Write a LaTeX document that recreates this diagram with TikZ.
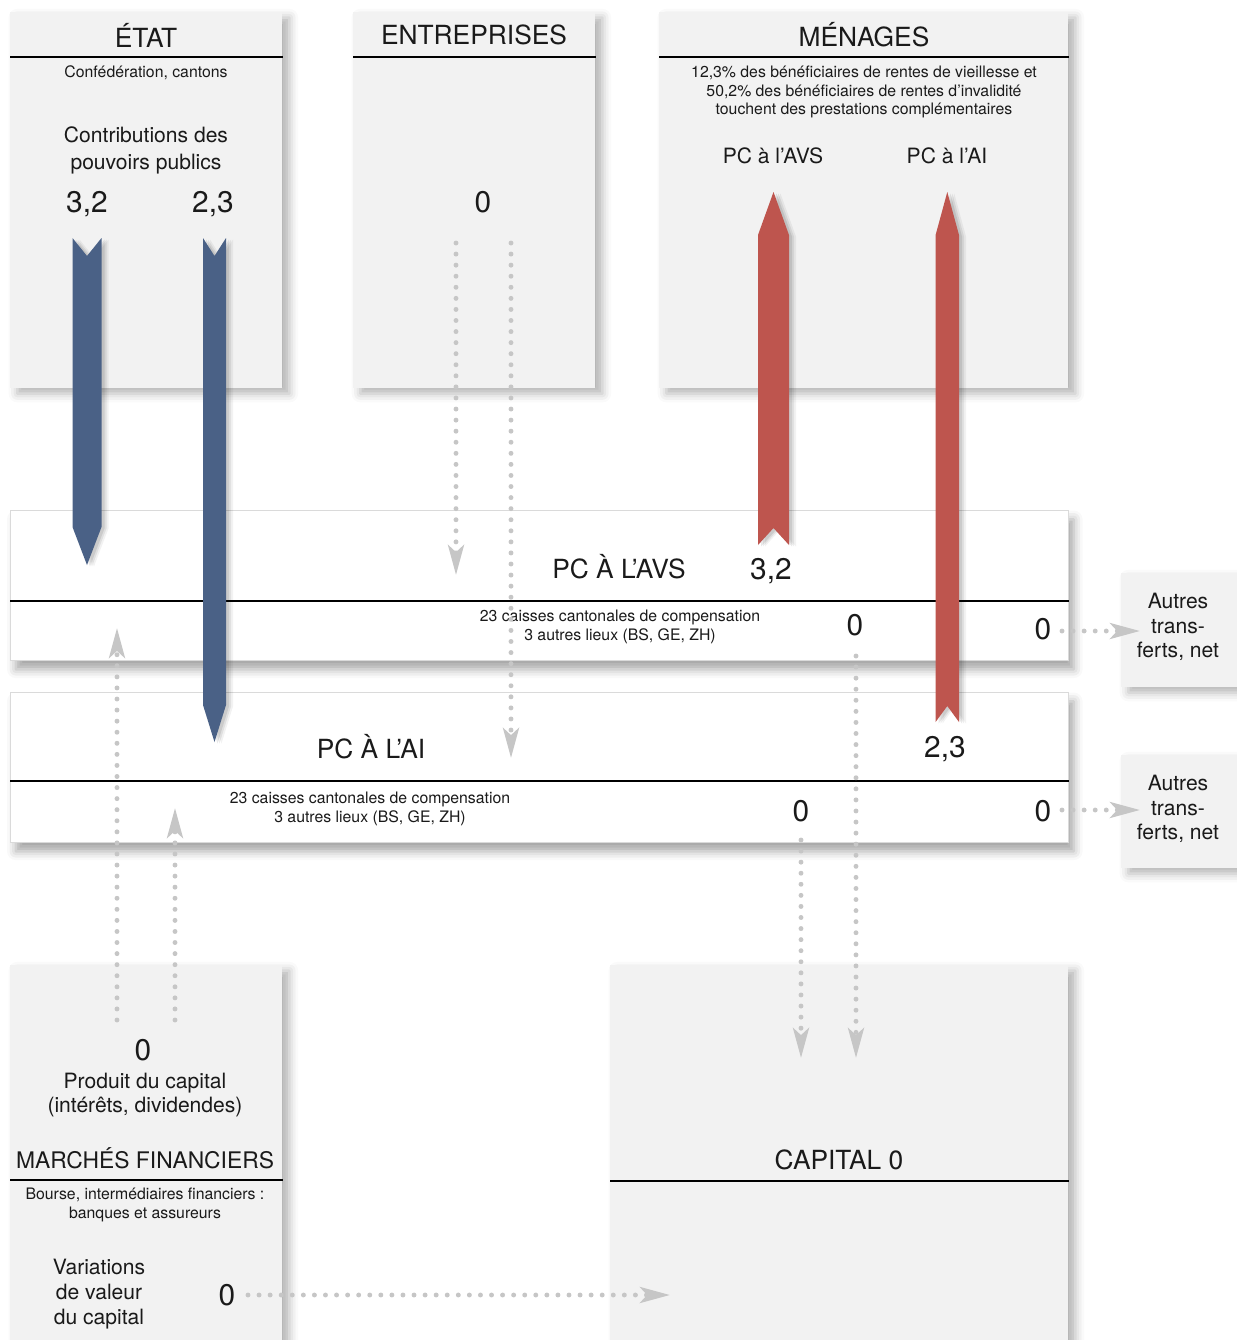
\documentclass[tikz,border=0pt]{standalone}
\usepackage{fontspec}
\setmainfont{TeX Gyre Heros}
\usetikzlibrary{arrows.meta,shadows.blur}

\definecolor{boxgrey}{HTML}{F2F2F2}
\definecolor{edgegrey}{HTML}{DADADA}
\definecolor{dotgrey}{HTML}{C6C6C6}
\definecolor{flowblue}{HTML}{4A6186}
\definecolor{flowred}{HTML}{BE554E}
\definecolor{ink}{HTML}{1A1A1A}

% broad flow arrow: x, tail y, notch y, head base y, tip y, half width, colour
\newcommand{\flowarrow}[7]{%
  \foreach \s/\o in {7/0.05,5/0.07,3/0.09}
    \fill[black, opacity=\o, xshift=\s*0.02cm, yshift=-1.5*0.02cm]
      ({#1-#6},#2) -- (#1,#3) -- ({#1+#6},#2) -- ({#1+#6},#4) -- (#1,#5) -- ({#1-#6},#4) -- cycle;
  \fill[#7]
    ({#1-#6},#2) -- (#1,#3) -- ({#1+#6},#2) -- ({#1+#6},#4) -- (#1,#5) -- ({#1-#6},#4) -- cycle;}

\begin{document}
\begin{tikzpicture}[x=0.02cm, y=-0.02cm,
    every node/.style={text=ink, inner sep=0pt},
    panel/.style={fill=boxgrey, anchor=north west,
      blur shadow={shadow xshift=4pt, shadow yshift=-3pt, shadow blur radius=5pt, shadow opacity=30}},
    account/.style={fill=white, draw=edgegrey, line width=0.6pt, anchor=north west,
      blur shadow={shadow xshift=3pt, shadow yshift=-5pt, shadow blur radius=5pt, shadow opacity=35}},
    rule/.style={black, line width=0.9pt},
    ttl/.style={font=\fontsize{15}{18}\selectfont},
    sml/.style={font=\fontsize{9}{10.5}\selectfont, align=center},
    med/.style={font=\fontsize{12}{14}\selectfont, align=center},
    num/.style={font=\fontsize{17}{20}\selectfont},
    flowdot/.style={dotgrey, line width=2.8pt, line cap=round, dash pattern=on 0pt off 6.3pt,
      -{Stealth[length=17pt, width=9pt, inset=4pt]}}]
  \useasboundingbox (0,0) rectangle (1237,1340);

  % sectors
  \node[panel, minimum width=272*0.02cm, minimum height=376*0.02cm] (etat) at (10,12) {};
  \node[panel, minimum width=242*0.02cm, minimum height=376*0.02cm] (entr) at (353,12) {};
  \node[panel, minimum width=409*0.02cm, minimum height=376*0.02cm] (menages) at (659,12) {};
  \node[panel, minimum width=272*0.02cm, minimum height=400*0.02cm] (marches) at (10,965) {};
  \node[panel, minimum width=458*0.02cm, minimum height=400*0.02cm] (capital) at (610,965) {};

  % accounts
  \node[account, minimum width=1058*0.02cm, minimum height=150*0.02cm] (avs) at (10,510) {};
  \node[account, minimum width=1058*0.02cm, minimum height=150*0.02cm] (ai) at (10,692) {};
  \node[panel, minimum width=116*0.02cm, minimum height=114*0.02cm] (autresA) at (1121,573) {};
  \node[panel, minimum width=116*0.02cm, minimum height=113*0.02cm] (autresB) at (1121,755) {};

  \draw[rule] (etat.west |- 0,57) -- (etat.east |- 0,57);
  \draw[rule] (entr.west |- 0,57) -- (entr.east |- 0,57);
  \draw[rule] (menages.west |- 0,57) -- (menages.east |- 0,57);
  \draw[rule] (avs.west |- 0,601) -- (avs.east |- 0,601);
  \draw[rule] (ai.west |- 0,781) -- (ai.east |- 0,781);
  \draw[rule] (marches.west |- 0,1180) -- (marches.east |- 0,1180);
  \draw[rule] (capital.west |- 0,1181) -- (capital.east |- 0,1181);

  % titles
  \node[ttl] (etatT) at (146,35) {ÉTAT};
  \node[ttl] (entrT) at (474,35) {ENTREPRISES};
  \node[ttl] (menT) at (864,35) {MÉNAGES};
  \node[ttl] (avsT) at (619,567) {PC À L’AVS};
  \node[ttl] (aiT) at (371,747) {PC À L’AI};
  \node[font=\fontsize{13}{16}\selectfont] (marT) at (145,1158) {MARCHÉS FINANCIERS};
  \node[ttl] (capT) at (839,1160) {CAPITAL 0};

  % texts
  \node[sml] (etatS) at (146,73) {Confédération, cantons};
  \node[med, font=\fontsize{12}{15.3}\selectfont] (contrib) at (146,150) {Contributions des\\pouvoirs publics};
  \node[num] (etatA) at (87,204) {3,2};
  \node[num] (etatB) at (213,204) {2,3};
  \node[num] (entr0) at (483,202) {0};
  \node[sml] (menS) at (864,92) {12,3\% des bénéficiaires de rentes de vieillesse et\\50,2\% des bénéficiaires de rentes d’invalidité\\touchent des prestations complémentaires};
  \node[med] (pcavs) at (773,156) {PC à l’AVS};
  \node[med] (pcai) at (947,156) {PC à l’AI};

  \node[num] (avsIn) at (771,571) {3,2};
  \node[sml] (avsS) at (620,627) {23 caisses cantonales de compensation\\3 autres lieux (BS, GE, ZH)};
  \node[num] (avsCap) at (855,625) {0};
  \node[num] (avsOut) at (1043,629) {0};
  \node[num] (aiIn) at (945,749) {2,3};
  \node[sml] (aiS) at (370,809) {23 caisses cantonales de compensation\\3 autres lieux (BS, GE, ZH)};
  \node[num] (aiCap) at (801,811) {0};
  \node[num] (aiOut) at (1043,811) {0};
  \node[med] (autA) at (1178,627) {Autres\\trans-\\ferts, net};
  \node[med] (autB) at (1178,809) {Autres\\trans-\\ferts, net};

  \node[num] (prod0) at (143,1050) {0};
  \node[med] (prod) at (145,1095) {Produit du capital\\(intérêts, dividendes)};
  \node[sml] (marS) at (145,1205) {Bourse, intermédiaires financiers :\\banques et assureurs};
  \node[med] (varia) at (99,1294) {Variations\\de valeur\\du capital};
  \node[num] (varia0) at (227,1295) {0};

  % zero flows
  \coordinate (entA) at (456,243);   \coordinate (entAend) at (456,575);
  \coordinate (entB) at (511,243);   \coordinate (entBend) at (511,758);
  \coordinate (prodA) at (117,1020); \coordinate (prodAend) at (117,628);
  \coordinate (prodB) at (175,1020); \coordinate (prodBend) at (175,808);
  \coordinate (capA) at (856,656);   \coordinate (capAend) at (856,1058);
  \coordinate (capB) at (801,840);   \coordinate (capBend) at (801,1058);
  \coordinate (outA) at (1062,631);  \coordinate (outAend) at (1140,631);
  \coordinate (outB) at (1062,810);  \coordinate (outBend) at (1140,810);
  \coordinate (valA) at (248,1295);  \coordinate (valAend) at (670,1295);
  \foreach \a in {entA,entB,prodA,prodB,capA,capB,outA,outB,valA}
    \draw[flowdot] (\a) -- (\a end);

  % flows
  \flowarrow{87}{238}{256}{527}{565}{14.5}{flowblue}
  \flowarrow{214.5}{238}{256}{705}{742}{11.5}{flowblue}
  \flowarrow{773.5}{545}{528}{235}{192}{15.5}{flowred}
  \flowarrow{947.3}{722}{706}{235}{192}{11.7}{flowred}
\end{tikzpicture}
\end{document}
